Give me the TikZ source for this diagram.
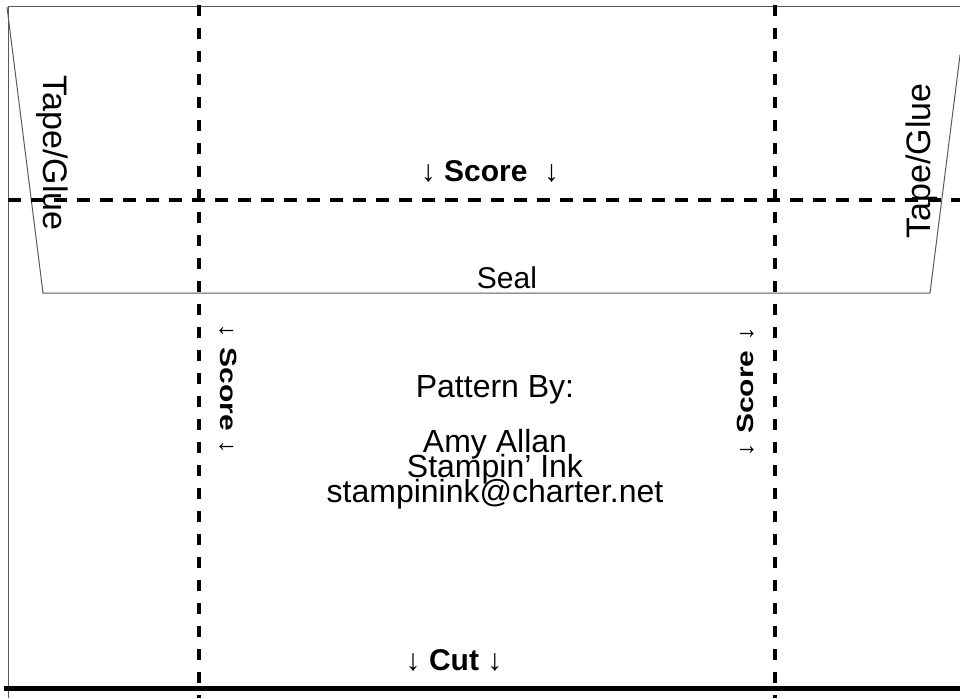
\documentclass[tikz,border=0pt]{standalone}
\usepackage{fontspec}
\setmainfont{Liberation Sans}
\setlength{\lineskiplimit}{-50pt}
\tikzset{
	cutline/.style={draw=black!65,line width=1pt},
	scoreline/.style={line width=4pt,dash pattern=on 13pt off 10pt},
	foldline/.style={line width=4pt,dash pattern=on 11pt off 12pt},
	lbl/.style={font=\fontsize{30}{26}\selectfont,inner sep=0pt},
}
\begin{document}
\begin{tikzpicture}[x=1pt,y=-1pt]
			\useasboundingbox (0,0) rectangle (960,698);
			\draw[cutline] (8,698)--(8,7)--(960,7);
			\draw[cutline] (7,7)--(43,293)--(930,293)--(960,55);
			\draw[scoreline] (8,200)--(960,200);
			\draw[foldline] (199,5)--(199,698);
			\draw[foldline] (775,5)--(775,698);
			\draw[line width=5pt] (4,688)--(960,688);
			\node[lbl,font=\fontsize{34}{30}\selectfont,rotate=-90] (glueL) at (52,153) {Tape/Glue};
			\node[lbl,font=\fontsize{34}{30}\selectfont,rotate=90] (glueR) at (922,161) {Tape/Glue};
			\node[lbl,anchor=base] (scoreT) at (490,181) {↓ \textbf{Score}\ \ ↓};
			\node[lbl,anchor=base] (seal) at (507,288) {Seal};
			\node[lbl,rotate=-90] (scoreL) at (228,389) {\scalebox{1}[0.78]{↓ \textbf{Score} ↓}};
			\node[lbl,rotate=90] (scoreR) at (746,392) {\scalebox{1}[0.78]{↓ \textbf{Score} ↓}};
			\node[lbl,font=\fontsize{32}{25}\selectfont,anchor=base] (by) at (495,397) {Pattern By:};
			\node[lbl,font=\fontsize{32}{25}\selectfont,align=center,anchor=base] (credit) at (495,502)
				{Amy Allan\\Stampin’ Ink\\stampinink@charter.net};
			\node[lbl,anchor=base] (cut) at (454,670) {↓ \textbf{Cut} ↓};
	\end{tikzpicture}
\end{document}
